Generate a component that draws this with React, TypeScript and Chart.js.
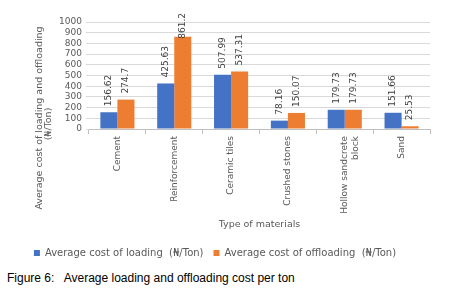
import React, { useEffect, useRef } from "react";
import { Chart, registerables } from "chart.js";

Chart.register(...registerables);

const categories: (string | string[])[] = [
  "Cement",
  "Reinforcement",
  "Ceramic tiles",
  "Crushed stones",
  ["Hollow sandcrete", "block"],
  "Sand",
];
const loading = [156.62, 425.63, 507.99, 78.16, 179.73, 151.66];
const offloading = [274.7, 861.2, 537.31, 150.07, 179.73, 25.53];
const seriesNames = [
  "Average cost of loading  (\u20A6/Ton)",
  "Average cost of offloading  (\u20A6/Ton)",
];
const yTitleLines = ["Average cost of loading and offloading", "(\u20A6/Ton)"];
const xTitle = "Type of materials";
const caption = "Figure 6:   Average loading and offloading cost per ton";

const FONT_FAMILY = "'DejaVu Sans', sans-serif";
const TEXT = "#595959";

const labelPlugin = {
  id: "barLabels",
  afterDatasetsDraw(chart: any) {
    const ctx = chart.ctx;
    ctx.save();
    ctx.font = `9px ${FONT_FAMILY}`;
    ctx.fillStyle = "#404040";
    chart.data.datasets.forEach((ds: any, i: number) => {
      const meta = chart.getDatasetMeta(i);
      meta.data.forEach((bar: any, j: number) => {
        const text = String(ds.data[j]);
        const w = ctx.measureText(text).width;
        let start = bar.y - 6;
        if (start - w < 13) start = 13 + w;
        ctx.save();
        ctx.translate(bar.x, start);
        ctx.rotate(-Math.PI / 2);
        ctx.textAlign = "left";
        ctx.textBaseline = "middle";
        ctx.fillText(text, 0, 0);
        ctx.restore();
      });
    });
    ctx.restore();
  },
};

const yTitlePlugin = {
  id: "yTitle",
  afterDraw(chart: any) {
    const ctx = chart.ctx;
    ctx.save();
    ctx.font = `9.5px ${FONT_FAMILY}`;
    ctx.fillStyle = TEXT;
    ctx.textAlign = "center";
    ctx.textBaseline = "middle";
    const pos = [
      [39.5, 118],
      [49, 124],
    ];
    yTitleLines.forEach((t, i) => {
      ctx.save();
      ctx.translate(pos[i][0], pos[i][1]);
      ctx.rotate(-Math.PI / 2);
      ctx.fillText(t, 0, 0);
      ctx.restore();
    });
    ctx.restore();
  },
};

export default function App() {
  const ref = useRef<HTMLCanvasElement>(null);
  useEffect(() => {
    if (!ref.current) return;
    const chart = new Chart(ref.current, {
      type: "bar",
      data: {
        labels: categories as any,
        datasets: [
          {
            label: seriesNames[0],
            data: loading,
            backgroundColor: "#4472C4",
            categoryPercentage: 0.6,
            barPercentage: 1.0,
          },
          {
            label: seriesNames[1],
            data: offloading,
            backgroundColor: "#ED7D31",
            categoryPercentage: 0.6,
            barPercentage: 1.0,
          },
        ],
      },
      options: {
        animation: false,
        responsive: false,
        maintainAspectRatio: false,
        layout: { padding: { top: 22, right: 22, left: 0, bottom: 0 } },
        plugins: {
          legend: {
            position: "bottom",
            labels: {
              boxWidth: 6,
              boxHeight: 6,
              padding: 10,
              color: TEXT,
              font: { family: FONT_FAMILY, size: 10 },
            },
          },
          tooltip: { enabled: false },
        },
        scales: {
          x: {
            grid: {
              display: true,
              drawOnChartArea: false,
              drawTicks: true,
              tickLength: 5,
              color: "#bfbfbf",
            },
            border: { display: true, color: "#bfbfbf" },
            ticks: {
              minRotation: 90,
              maxRotation: 90,
              autoSkip: false,
              padding: 2,
              color: TEXT,
              font: { family: FONT_FAMILY, size: 9 },
            },
            title: {
              display: true,
              text: xTitle,
              color: TEXT,
              padding: { top: 4, bottom: 8 },
              font: { family: FONT_FAMILY, size: 9.5 },
            },
            afterFit(scale: any) {
              scale.height = 109;
            },
          },
          y: {
            min: 0,
            max: 1000,
            ticks: {
              stepSize: 100,
              autoSkip: false,
              padding: 4,
              color: TEXT,
              font: { family: FONT_FAMILY, size: 9 },
              callback: (v: any) => String(v),
            },
            grid: { color: "#d9d9d9", tickLength: 3 },
            border: { display: false },
            afterFit(scale: any) {
              scale.width = 89;
            },
          },
        },
      },
      plugins: [labelPlugin, yTitlePlugin],
    });
    return () => chart.destroy();
  }, []);

  return (
    <div style={{ position: "absolute", left: 0, top: 0, width: 452, height: 291, background: "#fff" }}>
      <canvas ref={ref} width={452} height={268} style={{ display: "block" }} />
      <div
        style={{
          position: "absolute",
          left: 7,
          top: 271,
          fontFamily: "'Liberation Sans', Arial, sans-serif",
          fontSize: 12,
          color: "#000",
          whiteSpace: "pre",
          lineHeight: "14px",
        }}
      >
        {caption}
      </div>
    </div>
  );
}
